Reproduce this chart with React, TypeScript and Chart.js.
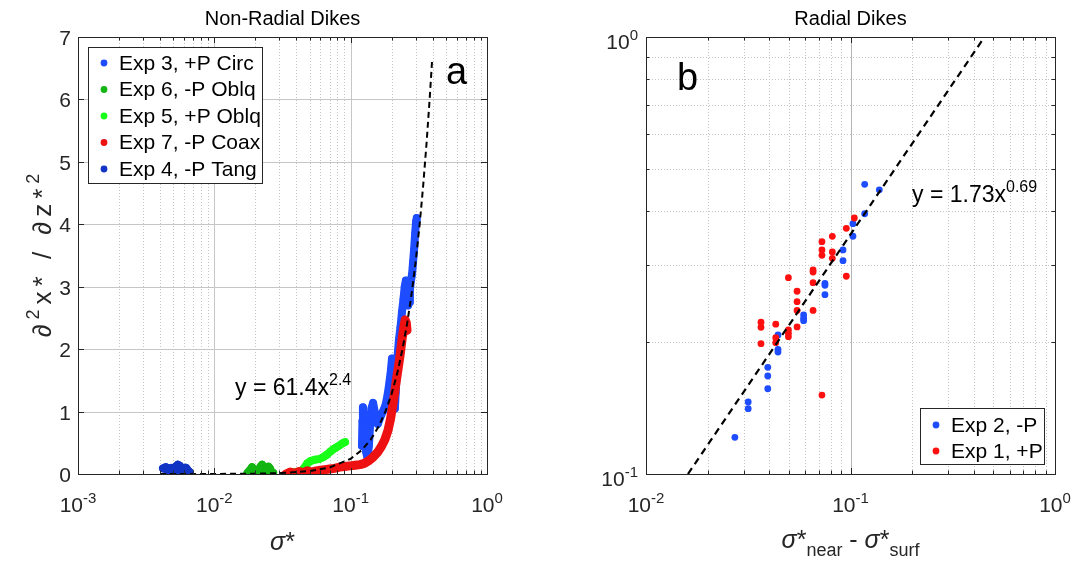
import React, { useEffect, useRef } from "react";
import { Chart, registerables } from "chart.js";
Chart.register(...registerables);

const FONT = '"Liberation Sans", Arial, Helvetica, sans-serif';

// ---------- Panel a : Non-Radial Dikes ----------
const exp3X = [0.121, 0.122, 0.123, 0.125, 0.127, 0.130, 0.133, 0.136, 0.139, 0.142, 0.146, 0.150, 0.154, 0.158, 0.163, 0.168, 0.174, 0.180, 0.186, 0.192, 0.197, 0.201, 0.205, 0.208, 0.211, 0.214, 0.217, 0.221, 0.226, 0.232, 0.238, 0.244, 0.249, 0.254, 0.259, 0.264, 0.268, 0.272, 0.277, 0.282, 0.287, 0.292, 0.297, 0.302, 0.305];
const exp3Y = [0.45, 0.85, 1.07, 0.80, 0.55, 0.35, 0.25, 0.45, 0.80, 1.05, 1.14, 1.00, 0.88, 0.80, 0.88, 0.95, 1.02, 1.10, 1.25, 1.45, 1.65, 1.85, 1.75, 1.35, 1.05, 1.30, 1.60, 1.90, 2.15, 2.35, 2.60, 2.80, 3.00, 3.10, 2.90, 2.70, 2.75, 2.95, 3.10, 3.20, 3.40, 3.60, 3.85, 4.05, 4.10];

const exp6X = [0.0175, 0.0182, 0.0189, 0.0196, 0.0203, 0.0210, 0.0218, 0.0224, 0.0230, 0.0236, 0.0243, 0.0249, 0.0256, 0.0263, 0.0270];
const exp6Y = [0.02, 0.06, 0.11, 0.07, 0.03, 0.05, 0.12, 0.15, 0.08, 0.03, 0.06, 0.12, 0.09, 0.03, 0.02];

const exp5X = [0.036, 0.039, 0.042, 0.045, 0.048, 0.051, 0.055, 0.059, 0.063, 0.067, 0.071, 0.075, 0.079, 0.083, 0.087, 0.091];
const exp5Y = [0.02, 0.03, 0.03, 0.08, 0.17, 0.21, 0.23, 0.24, 0.27, 0.31, 0.36, 0.40, 0.43, 0.46, 0.49, 0.51];

const exp7X = [0.0335, 0.036, 0.039, 0.042, 0.045, 0.048, 0.052, 0.056, 0.060, 0.065, 0.070, 0.076, 0.083, 0.090, 0.099, 0.108, 0.117, 0.126, 0.135, 0.146, 0.158, 0.168, 0.178, 0.188, 0.196, 0.203, 0.210, 0.217, 0.224, 0.231, 0.238, 0.245, 0.251, 0.256, 0.259];
const exp7Y = [0.00, 0.03, 0.01, 0.04, 0.02, 0.05, 0.03, 0.05, 0.06, 0.07, 0.08, 0.09, 0.11, 0.12, 0.13, 0.14, 0.15, 0.17, 0.21, 0.27, 0.35, 0.44, 0.55, 0.70, 0.88, 1.08, 1.30, 1.52, 1.72, 1.92, 2.15, 2.35, 2.47, 2.42, 2.30];

const exp4X = [0.0042, 0.0044, 0.0046, 0.0048, 0.0050, 0.0052, 0.0054, 0.0056, 0.0058, 0.0060, 0.0062, 0.0064, 0.0066, 0.0064, 0.0060, 0.0055, 0.0050, 0.0045];
const exp4Y = [0.09, 0.11, 0.08, 0.10, 0.06, 0.12, 0.15, 0.13, 0.08, 0.04, 0.10, 0.06, 0.03, 0.01, 0.02, 0.05, 0.04, 0.06];

const fitAX = [0.004, 0.01, 0.02, 0.03, 0.05, 0.07, 0.1, 0.12, 0.14, 0.16, 0.18, 0.2, 0.22, 0.24, 0.26, 0.28, 0.3, 0.32, 0.34, 0.36, 0.38, 0.395];
const fitAY = [0.0001, 0.001, 0.0052, 0.0136, 0.046, 0.104, 0.244, 0.379, 0.548, 0.756, 1.002, 1.29, 1.62, 2.0, 2.42, 2.89, 3.41, 3.98, 4.61, 5.29, 6.02, 6.6];

const xTickValsA = [0.001, 0.01, 0.1, 1];
const xTickExpA = ["-3", "-2", "-1", "0"];
const yTickValsA = [0, 1, 2, 3, 4, 5, 6, 7];

const legendA = ["Exp 3, +P Circ", "Exp 6, -P Oblq", "Exp 5, +P Oblq", "Exp 7, -P Coax", "Exp 4, -P Tang"];
const colorsA = ["#1e4cff", "#12b512", "#18ff18", "#ee1111", "#1234c4"];

// ---------- Panel b : Radial Dikes ----------
const exp2X = [0.1173, 0.1383, 0.1173, 0.1028, 0.1028, 0.0919, 0.0919, 0.0750, 0.0750, 0.0750, 0.0590, 0.0590, 0.0590, 0.0442, 0.0442, 0.0442, 0.0394, 0.0394, 0.0394, 0.0316, 0.0316, 0.0272];
const exp2Y = [0.460, 0.447, 0.394, 0.374, 0.350, 0.3256, 0.3077, 0.2731, 0.2702, 0.2572, 0.2311, 0.2271, 0.2243, 0.2080, 0.1929, 0.1902, 0.1754, 0.1676, 0.1567, 0.1462, 0.1411, 0.1213];

const exp1X = [0.1044, 0.0954, 0.0815, 0.0725, 0.0725, 0.0725, 0.0815, 0.0815, 0.0954, 0.0656, 0.0656, 0.0656, 0.0497, 0.0548, 0.0548, 0.0548, 0.0548, 0.0656, 0.0497, 0.0497, 0.0497, 0.0431, 0.0431, 0.0431, 0.0365, 0.0365, 0.0365, 0.0725];
const exp1Y = [0.3853, 0.3649, 0.3499, 0.3401, 0.3256, 0.3166, 0.3221, 0.3115, 0.2835, 0.2930, 0.2899, 0.2741, 0.2813, 0.2619, 0.2479, 0.2368, 0.2170, 0.2368, 0.2136, 0.2099, 0.2062, 0.2202, 0.2051, 0.1998, 0.2225, 0.2167, 0.1987, 0.1516];

const fitBX = [0.01604, 0.452];
const fitBY = [0.1, 1.0];

const xTickValsB = [0.01, 0.1, 1];
const xTickExpB = ["-2", "-1", "0"];
const yTickValsB = [0.1, 1];
const yTickExpB = ["-1", "0"];

const legendB = ["Exp 2, -P", "Exp 1, +P"];
const colorsB = ["#1e4cff", "#ff1010"];

// ---------- helpers ----------
const pts = (xs: number[], ys: number[]) => xs.map((x, i) => ({ x, y: ys[i] }));

type Seg = { t: string; k?: "sup" | "sub"; it?: boolean };
const fontFor = (s: Seg, size: number) =>
  `${s.it ? "italic " : ""}${s.k ? Math.round(size * 0.7) : size}px ${FONT}`;

function runWidth(ctx: CanvasRenderingContext2D, segs: Seg[], size: number, sp: number) {
  let w = 0;
  for (const s of segs) {
    ctx.font = fontFor(s, size);
    for (const ch of Array.from(s.t)) w += ctx.measureText(ch).width + sp;
  }
  return w - sp;
}

function drawRun(ctx: CanvasRenderingContext2D, segs: Seg[], x: number, y: number, size: number, align: "left" | "center" | "right", color = "#000", sp = 0) {
  const w = sp ? runWidth(ctx, segs, size, sp) : segs.reduce((a, s) => { ctx.font = fontFor(s, size); return a + ctx.measureText(s.t).width; }, 0);
  let cx = align === "center" ? x - w / 2 : align === "right" ? x - w : x;
  ctx.textAlign = "left";
  ctx.textBaseline = "alphabetic";
  ctx.fillStyle = color;
  for (const s of segs) {
    ctx.font = fontFor(s, size);
    const dy = s.k === "sup" ? -size * 0.45 : s.k === "sub" ? size * 0.32 : 0;
    if (sp) {
      for (const ch of Array.from(s.t)) {
        ctx.fillText(ch, cx, y + dy);
        cx += ctx.measureText(ch).width + sp;
      }
    } else {
      ctx.fillText(s.t, cx, y + dy);
      cx += ctx.measureText(s.t).width;
    }
  }
}

const px = (v: number) => Math.round(v) + 0.5;

function vLine(ctx: CanvasRenderingContext2D, x: number, y0: number, y1: number) {
  ctx.beginPath();
  ctx.moveTo(px(x), y0);
  ctx.lineTo(px(x), y1);
  ctx.stroke();
}
function hLine(ctx: CanvasRenderingContext2D, y: number, x0: number, x1: number) {
  ctx.beginPath();
  ctx.moveTo(x0, px(y));
  ctx.lineTo(x1, px(y));
  ctx.stroke();
}

const MAJOR_GRID = "#c6c6c6";
const MINOR_GRID = "#c4c4c4";
const AXIS = "#262626";
const TICK_MAJ = 6;
const TICK_MIN = 3.5;

function logMinors(decades: number[]) {
  const out: number[] = [];
  decades.forEach((d) => {
    for (let m = 2; m <= 9; m++) out.push(m * d);
  });
  return out;
}

function drawBoxAndTicks(chart: any, xMaj: number[], xMin: number[], yMaj: number[], yMin: number[]) {
  const ctx: CanvasRenderingContext2D = chart.ctx;
  const { left, right, top, bottom } = chart.chartArea;
  const xs = chart.scales.x;
  const ys = chart.scales.y;
  ctx.save();
  ctx.strokeStyle = AXIS;
  ctx.lineWidth = 1;
  ctx.setLineDash([]);
  ctx.strokeRect(px(left), px(top), Math.round(right - left), Math.round(bottom - top));
  const tx = (v: number, len: number) => {
    const p = xs.getPixelForValue(v);
    vLine(ctx, p, bottom, bottom - len);
    vLine(ctx, p, top, top + len);
  };
  const ty = (v: number, len: number) => {
    const p = ys.getPixelForValue(v);
    hLine(ctx, p, left, left + len);
    hLine(ctx, p, right, right - len);
  };
  xMaj.forEach((v) => tx(v, TICK_MAJ));
  xMin.forEach((v) => tx(v, TICK_MIN));
  yMaj.forEach((v) => ty(v, TICK_MAJ));
  yMin.forEach((v) => ty(v, TICK_MIN));
  ctx.restore();
}

function drawLegend(ctx: CanvasRenderingContext2D, box: [number, number, number, number], rows: number[], dotX: number, textX: number, labels: string[], colors: string[]) {
  const [x0, y0, x1, y1] = box;
  ctx.save();
  ctx.fillStyle = "#fff";
  ctx.fillRect(x0, y0, x1 - x0, y1 - y0);
  ctx.strokeStyle = AXIS;
  ctx.lineWidth = 1;
  ctx.strokeRect(px(x0), px(y0), Math.round(x1 - x0), Math.round(y1 - y0));
  labels.forEach((l, i) => {
    ctx.beginPath();
    ctx.fillStyle = colors[i];
    ctx.arc(dotX, rows[i], 3.4, 0, Math.PI * 2);
    ctx.fill();
    ctx.fillStyle = "#000";
    ctx.font = `21px ${FONT}`;
    ctx.textAlign = "left";
    ctx.textBaseline = "middle";
    ctx.fillText(l, textX, rows[i] + 1);
  });
  ctx.restore();
}

const TICK_FONT = 21;
const LABEL_FONT = 26;

// ---------- plugins ----------
const panelAPlugin = {
  id: "panelA",
  beforeDatasetsDraw(chart: any) {
    const ctx: CanvasRenderingContext2D = chart.ctx;
    const { left, right, top, bottom } = chart.chartArea;
    const xs = chart.scales.x;
    const ys = chart.scales.y;
    ctx.save();
    ctx.lineWidth = 1;
    ctx.strokeStyle = MINOR_GRID;
    ctx.setLineDash([1, 2]);
    logMinors([0.001, 0.01, 0.1]).forEach((v) => vLine(ctx, xs.getPixelForValue(v), top, bottom));
    ctx.setLineDash([]);
    ctx.strokeStyle = MAJOR_GRID;
    [0.01, 0.1].forEach((v) => vLine(ctx, xs.getPixelForValue(v), top, bottom));
    [1, 2, 3, 4, 5, 6].forEach((v) => hLine(ctx, ys.getPixelForValue(v), left, right));
    ctx.restore();
  },
  afterDraw(chart: any) {
    const ctx: CanvasRenderingContext2D = chart.ctx;
    const { left, right, top, bottom } = chart.chartArea;
    const xs = chart.scales.x;
    const ys = chart.scales.y;
    drawBoxAndTicks(chart, xTickValsA, logMinors([0.001, 0.01, 0.1]), yTickValsA, []);
    ctx.save();
    xTickValsA.forEach((v, i) => {
      drawRun(ctx, [{ t: "10" }, { t: xTickExpA[i], k: "sup" }], xs.getPixelForValue(v), 512, TICK_FONT, "center", AXIS);
    });
    yTickValsA.forEach((v) => {
      drawRun(ctx, [{ t: String(v) }], left - 7, ys.getPixelForValue(v) + 8, TICK_FONT, "right", AXIS);
    });
    drawRun(ctx, [{ t: "Non-Radial Dikes" }], (left + right) / 2, 25, 20, "center");
    drawRun(ctx, [{ t: "σ", it: true }, { t: "*" }], (left + right) / 2, 550, 25, "center", AXIS);
    ctx.save();
    ctx.translate(41, (top + bottom) / 2);
    ctx.rotate(-Math.PI / 2);
    drawRun(ctx, [{ t: "∂" }, { t: "2", k: "sup" }, { t: "x* / ∂z*" }, { t: "2", k: "sup" }], 0, 10, LABEL_FONT, "center", AXIS, 5);
    ctx.restore();
    drawRun(ctx, [{ t: "y = 61.4x" }, { t: "2.4", k: "sup" }], 235, 395, 23, "left");
    drawRun(ctx, [{ t: "a" }], 446, 84, 38, "left");
    drawLegend(ctx, [88, 47, 262, 183], [63, 89.5, 116, 142.5, 169], 104, 119, legendA, colorsA);
    ctx.restore();
  },
};

const panelBPlugin = {
  id: "panelB",
  beforeDatasetsDraw(chart: any) {
    const ctx: CanvasRenderingContext2D = chart.ctx;
    const { left, right, top, bottom } = chart.chartArea;
    const xs = chart.scales.x;
    const ys = chart.scales.y;
    ctx.save();
    ctx.lineWidth = 1;
    ctx.strokeStyle = MINOR_GRID;
    ctx.setLineDash([1, 2]);
    logMinors([0.01, 0.1]).forEach((v) => vLine(ctx, xs.getPixelForValue(v), top, bottom));
    logMinors([0.1]).forEach((v) => hLine(ctx, ys.getPixelForValue(v), left, right));
    ctx.setLineDash([]);
    ctx.strokeStyle = "#b4b4b4";
    [0.1].forEach((v) => vLine(ctx, xs.getPixelForValue(v), top, bottom));
    ctx.restore();
  },
  afterDraw(chart: any) {
    const ctx: CanvasRenderingContext2D = chart.ctx;
    const { left, right, top, bottom } = chart.chartArea;
    const xs = chart.scales.x;
    const ys = chart.scales.y;
    drawBoxAndTicks(chart, xTickValsB, logMinors([0.01, 0.1]), yTickValsB, logMinors([0.1]));
    ctx.save();
    xTickValsB.forEach((v, i) => {
      drawRun(ctx, [{ t: "10" }, { t: xTickExpB[i], k: "sup" }], xs.getPixelForValue(v), 512, TICK_FONT, "center", AXIS);
    });
    yTickValsB.forEach((v, i) => {
      drawRun(ctx, [{ t: "10" }, { t: yTickExpB[i], k: "sup" }], left - 8, ys.getPixelForValue(v) + 12, TICK_FONT, "right", AXIS);
    });
    drawRun(ctx, [{ t: "Radial Dikes" }], (left + right) / 2, 25, 20, "center");
    drawRun(
      ctx,
      [{ t: "σ", it: true }, { t: "*" }, { t: "near", k: "sub" }, { t: " - " }, { t: "σ", it: true }, { t: "*" }, { t: "surf", k: "sub" }],
      (left + right) / 2,
      548,
      25,
      "center",
      AXIS
    );
    ctx.save();
    ctx.translate(607, (top + bottom) / 2);
    ctx.rotate(-Math.PI / 2);
    drawRun(ctx, [{ t: "∂x / ∂z" }], 0, 10, LABEL_FONT, "center", AXIS, 5);
    ctx.restore();
    drawRun(ctx, [{ t: "y = 1.73x" }, { t: "0.69", k: "sup" }], 367, 202, 23, "left");
    drawRun(ctx, [{ t: "b" }], 132, 90, 38, "left");
    drawLegend(ctx, [375, 408, 499, 464], [425, 451], 391, 406, legendB, colorsB);
    ctx.restore();
  },
};

// ---------- configs ----------
function traceDs(label: string, xs: number[], ys: number[], color: string, order: number, width = 8) {
  return {
    label,
    data: pts(xs, ys),
    showLine: true,
    borderColor: color,
    backgroundColor: color,
    borderWidth: width,
    borderJoinStyle: "round",
    borderCapStyle: "round",
    pointRadius: 3.8,
    pointBorderWidth: 0,
    tension: 0,
    order,
  };
}

function configA(): any {
  return {
    type: "scatter",
    data: {
      datasets: [
        { label: "fit", data: pts(fitAX, fitAY), showLine: true, borderColor: "#000", borderWidth: 2, borderDash: [6, 4], pointRadius: 0, tension: 0, order: 0 },
        traceDs(legendA[3], exp7X, exp7Y, colorsA[3], 1, 9),
        traceDs(legendA[2], exp5X, exp5Y, colorsA[2], 2, 8),
        traceDs(legendA[1], exp6X, exp6Y, colorsA[1], 3, 8),
        traceDs(legendA[0], exp3X, exp3Y, colorsA[0], 4, 8),
        traceDs(legendA[4], exp4X, exp4Y, colorsA[4], 5, 8),
      ],
    },
    options: {
      animation: false,
      responsive: false,
      events: [],
      layout: { padding: { left: 78, right: 58, top: 37, bottom: 88 } },
      scales: {
        x: { type: "logarithmic", min: 0.001, max: 1, display: false },
        y: { type: "linear", min: 0, max: 7, display: false },
      },
      plugins: { legend: { display: false }, tooltip: { enabled: false } },
    },
    plugins: [panelAPlugin],
  };
}

function configB(): any {
  return {
    type: "scatter",
    data: {
      datasets: [
        { label: "fit", data: pts(fitBX, fitBY), showLine: true, borderColor: "#000", borderWidth: 2.2, borderDash: [7, 5], pointRadius: 0, tension: 0, order: 0 },
        { label: legendB[1], data: pts(exp1X, exp1Y), backgroundColor: colorsB[1], borderWidth: 0, pointRadius: 3.4, order: 1 },
        { label: legendB[0], data: pts(exp2X, exp2Y), backgroundColor: colorsB[0], borderWidth: 0, pointRadius: 3.4, order: 2 },
      ],
    },
    options: {
      animation: false,
      responsive: false,
      events: [],
      layout: { padding: { left: 101, right: 35, top: 37, bottom: 88 } },
      scales: {
        x: { type: "logarithmic", min: 0.01, max: 1, display: false },
        y: { type: "logarithmic", min: 0.1, max: 1, display: false },
      },
      plugins: { legend: { display: false }, tooltip: { enabled: false } },
    },
    plugins: [panelBPlugin],
  };
}

function Panel({ left, make }: { left: number; make: () => any }) {
  const ref = useRef<HTMLCanvasElement>(null);
  useEffect(() => {
    const chart = new Chart(ref.current as HTMLCanvasElement, make());
    return () => chart.destroy();
  }, []);
  return (
    <canvas
      ref={ref}
      width={545}
      height={562}
      style={{ position: "absolute", left, top: 0, width: 545, height: 562 }}
    />
  );
}

export default function App() {
  return (
    <div style={{ position: "fixed", left: 0, top: 0, width: 1090, height: 562, background: "#fff" }}>
      <Panel left={0} make={configA} />
      <Panel left={545} make={configB} />
    </div>
  );
}
